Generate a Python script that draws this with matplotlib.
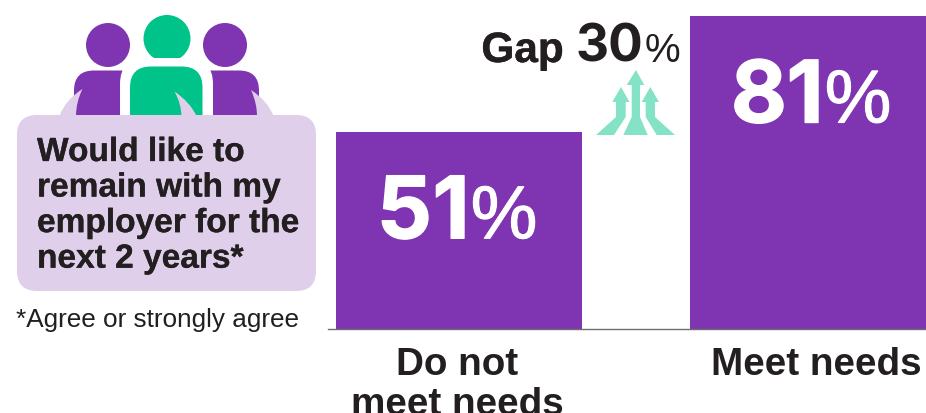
import matplotlib
matplotlib.use("Agg")
import matplotlib.pyplot as plt
import matplotlib.patheffects as pe
from matplotlib.patches import Circle, FancyBboxPatch, PathPatch, Polygon
from matplotlib.path import Path

plt.rcParams['font.family'] = ['Liberation Sans', 'DejaVu Sans']

# data
categories = ["Do not\nmeet needs", "Meet needs"]
values = [51, 81]
gap = values[1] - values[0]
bubble_lines = "Would like to\nremain with my\nemployer for the\nnext 2 years*"
footnote = "*Agree or strongly agree"

PURPLE = "#7F35B1"
GREEN = "#00C389"
LAVENDER = "#DFCFEB"
MINT = "#84E3C7"
INK = "#231F20"

W, H = 926, 413
fig = plt.figure(figsize=(W / 100, H / 100), dpi=100)


def heavy(width, color):
    return [pe.withStroke(linewidth=width, foreground=color)]


# bars: baseline at y=329, 3.86 px per percent
ax = fig.add_axes([328 / W, (H - 329) / H, (W - 328) / W, 329 / H])
ax.bar([0, 1], values, width=246 / 354, color=PURPLE)
ax.set_xlim((328 - 459) / 354, (926 - 459) / 354)
ax.set_ylim(0, 329 / 3.86)
for s in ["top", "left", "right"]:
    ax.spines[s].set_visible(False)
ax.spines["bottom"].set_color("#6d6d6d")
ax.spines["bottom"].set_linewidth(1)
ax.set_yticks([])
ax.set_xticks([-0.005, 1.008])
ax.set_xticklabels(categories, fontsize=27.8, fontweight="bold", color=INK, linespacing=1.15)
ax.tick_params(axis="x", length=0, pad=13)

# value labels: bold digits, lighter percent sign
for i, v in enumerate(values):
    y = v - 27.5
    tens, ones = str(v)
    ax.text(i - 0.232, y, tens, fontsize=62, family="Inter", fontweight="bold", color="white",
            ha="left", va="baseline", path_effects=heavy(1, "white"))
    ax.text(i + 0.03, y, ones, fontsize=62, family="Inter", fontweight="bold", color="white",
            ha="right", va="baseline", path_effects=heavy(1, "white"))
    ax.text(i + 0.033, y, "%", fontsize=54, color="white", ha="left", va="baseline",
            path_effects=heavy(0.8, "white"))

# overlay in pixel coordinates for the icons and captions
ov = fig.add_axes([0, 0, 1, 1], zorder=3)
ov.set_xlim(0, W)
ov.set_ylim(H, 0)
ov.axis("off")
ov.patch.set_alpha(0)


def body(x0, x1, top, bottom, r, color, round_left=True, round_right=True):
    verts = [(x0, bottom)]
    codes = [Path.MOVETO]
    if round_left:
        verts += [(x0, top + r), (x0, top), (x0 + r, top)]
        codes += [Path.LINETO, Path.CURVE3, Path.CURVE3]
    else:
        verts += [(x0, top)]
        codes += [Path.LINETO]
    if round_right:
        verts += [(x1 - r, top), (x1, top), (x1, top + r)]
        codes += [Path.LINETO, Path.CURVE3, Path.CURVE3]
    else:
        verts += [(x1, top)]
        codes += [Path.LINETO]
    verts += [(x1, bottom), (x0, bottom)]
    codes += [Path.LINETO, Path.CLOSEPOLY]
    ov.add_patch(PathPatch(Path(verts, codes), fc=color, ec="none"))


# people
ov.add_patch(Circle((108, 45), 22, fc=PURPLE, ec="none"))
ov.add_patch(Circle((225, 45), 22, fc=PURPLE, ec="none"))
ov.add_patch(Circle((167, 38.5), 23.5, fc=GREEN, ec="none"))
body(74, 126, 70.5, 116, 20, PURPLE, round_right=False)
body(208, 259, 70.5, 116, 20, PURPLE, round_left=False)
# white halo around the middle person
body(120, 213, 58, 116, 26, "white")
body(130, 202.5, 66.5, 116, 21, GREEN)


def tail(tip, outer, inner, ctrl_out, ctrl_in):
    verts = [tip, ctrl_out, outer, inner, ctrl_in, tip]
    codes = [Path.MOVETO, Path.CURVE3, Path.CURVE3, Path.LINETO, Path.CURVE3, Path.CURVE3]
    ov.add_patch(PathPatch(Path(verts, codes), fc=LAVENDER, ec="none"))


tail((82.5, 89), (59.5, 116), (76, 116), (65, 100), (76, 102))
tail((174.5, 91.5), (196.5, 116), (181.5, 116), (190, 102), (181, 103))
tail((251, 90), (273.5, 116), (257, 116), (268, 101), (257, 103))

# speech bubble
ov.add_patch(FancyBboxPatch((37, 135), 259, 136, boxstyle="round,pad=20,rounding_size=20",
                            fc=LAVENDER, ec="none"))
ov.text(37, 137, bubble_lines, fontsize=24.1, fontweight="bold", color=INK, ha="left", va="top",
        linespacing=1.19, path_effects=heavy(0.2, INK))
ov.text(16, 319.5, footnote, fontsize=18.8, color=INK, ha="left", va="center")

# gap caption
ov.text(564, 62, "Gap", fontsize=30.5, fontweight="bold", color=INK, ha="right", va="baseline",
        path_effects=heavy(0.3, INK))
ov.text(643, 62, str(gap), fontsize=37, family="Inter", fontweight="bold", color=INK, ha="right",
        va="baseline")
ov.text(645, 62, "%", fontsize=29, color=INK, ha="left", va="baseline")

# three merging arrows
ov.add_patch(Polygon([(636, 70), (644.3, 85), (640, 85), (640, 117), (647.7, 135), (623.3, 135),
                      (631.7, 117), (631.7, 85), (626.7, 85)], fc=MINT, ec="none"))
ov.add_patch(Polygon([(621, 87), (629.5, 102), (625.7, 102), (625.7, 117), (614, 135),
                      (596, 135), (616, 117), (616, 102), (612.3, 102)], fc=MINT, ec="none"))
ov.add_patch(Polygon([(650.3, 87), (659, 102), (655, 102), (655, 117), (675, 135),
                      (656.7, 135), (645.7, 117), (645.7, 102), (641.7, 102)], fc=MINT, ec="none"))

fig.savefig("out.png", dpi=100)
